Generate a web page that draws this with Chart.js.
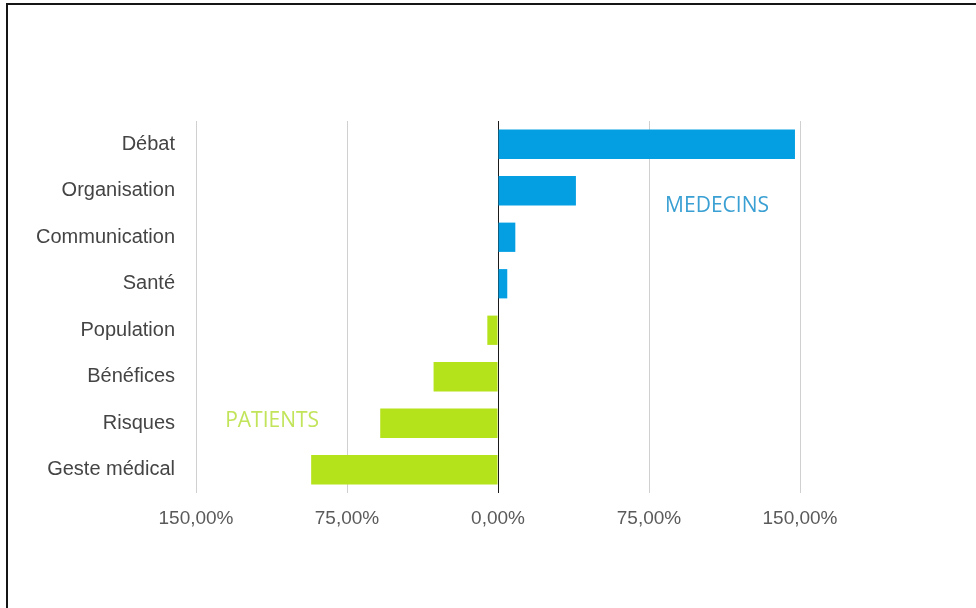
<!DOCTYPE html>
<html>
<head>
<meta charset="utf-8">
<script src="https://cdn.jsdelivr.net/npm/chart.js@4/dist/chart.umd.min.js"></script>
<style>
  html, body { margin: 0; padding: 0; background: #fff; }
  #wrap { position: relative; width: 976px; height: 608px; overflow: hidden; }
  #frame { position: absolute; left: 6px; top: 3px; right: -10px; bottom: -10px;
           border-top: 2px solid #151515; border-left: 2px solid #151515; pointer-events: none; }
  canvas { position: absolute; left: 0; top: 0; }
</style>
</head>
<body>
<div id="wrap">
  <canvas id="c" width="976" height="608"></canvas>
  <div id="frame"></div>
</div>
<script>
const categories = ['Débat', 'Organisation', 'Communication', 'Santé', 'Population', 'Bénéfices', 'Risques', 'Geste médical'];
const medecins = [147.5, 38.7, 8.6, 4.6, null, null, null, null];
const patients = [null, null, null, null, -5.3, -32, -58.5, -92.8];
const xTicks = [-150, -75, 0, 75, 150];
const seriesNames = ['MEDECINS', 'PATIENTS'];

const BLUE = '#039fe2';
const GREEN = '#b4e21b';

const labelsPlugin = {
  id: 'seriesLabels',
  afterDatasetsDraw(chart) {
    const ctx = chart.ctx;
    const xs = chart.scales.x, ys = chart.scales.y;
    ctx.save();
    ctx.font = '21px "Open Sans", sans-serif';
    ctx.textAlign = 'left';
    ctx.textBaseline = 'middle';
    ctx.fillStyle = '#3aa0d3';
    ctx.fillText(seriesNames[0], xs.getPixelForValue(83), ys.getPixelForValue(1.32));
    ctx.fillStyle = '#c2e45a';
    ctx.fillText(seriesNames[1], xs.getPixelForValue(-135.5), ys.getPixelForValue(5.95));
    ctx.restore();
  }
};

new Chart(document.getElementById('c'), {
  type: 'bar',
  data: {
    labels: categories,
    datasets: [
      { label: seriesNames[0], data: medecins, backgroundColor: BLUE, borderWidth: 0 },
      { label: seriesNames[1], data: patients, backgroundColor: GREEN, borderWidth: 0 }
    ]
  },
  plugins: [labelsPlugin],
  options: {
    indexAxis: 'y',
    responsive: false,
    animation: false,
    devicePixelRatio: 1,
    layout: { padding: { left: 0, right: 176, top: 121, bottom: 75 } },
    datasets: { bar: { categoryPercentage: 1, barPercentage: 0.63 } },
    plugins: { legend: { display: false }, tooltip: { enabled: false } },
    scales: {
      x: {
        stacked: true,
        min: -150, max: 150,
        afterBuildTicks(scale) { scale.ticks = xTicks.map(v => ({ value: v })); },
        afterFit(scale) { scale.height = 40; },
        border: { display: false },
        grid: {
          drawTicks: false,
          color: ctx => ctx.tick && ctx.tick.value === 0 ? '#1a1a1a' : '#d0d0d0',
          lineWidth: 1
        },
        ticks: {
          padding: 14,
          color: '#5a5a5a',
          font: { family: 'Arial, "Liberation Sans", sans-serif', size: 19 },
          callback: v => Math.abs(v).toFixed(2).replace('.', ',') + '%'
        }
      },
      y: {
        stacked: true,
        afterFit(scale) { scale.width = 196; },
        border: { display: false },
        grid: { display: false, drawTicks: false },
        ticks: {
          padding: 21,
          color: '#444',
          font: { family: 'Arial, "Liberation Sans", sans-serif', size: 20 }
        }
      }
    }
  }
});
</script>
</body>
</html>
